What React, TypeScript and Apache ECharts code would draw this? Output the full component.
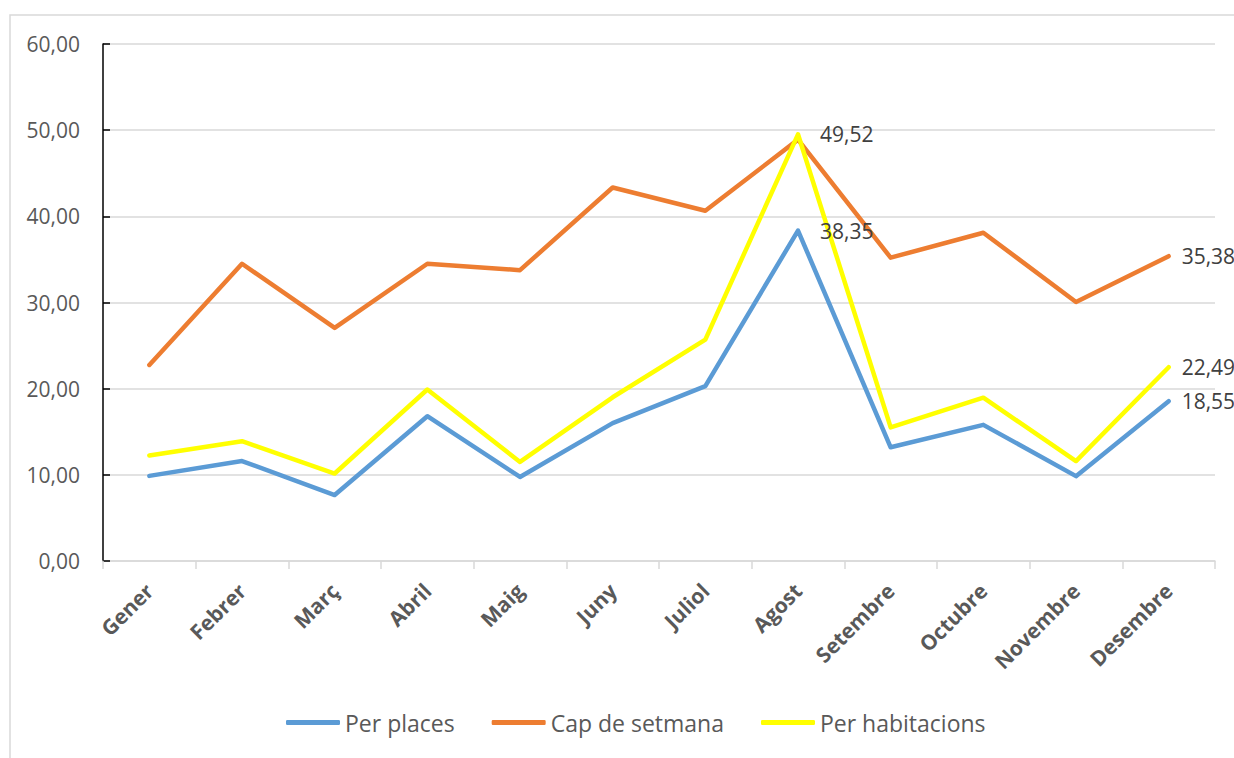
import React, { useEffect, useRef } from "react";
import * as echarts from "echarts";

const months = ["Gener", "Febrer", "Març", "Abril", "Maig", "Juny", "Juliol", "Agost", "Setembre", "Octubre", "Novembre", "Desembre"];
const perPlaces = [9.88, 11.6, 7.65, 16.8, 9.75, 16.0, 20.3, 38.35, 13.2, 15.8, 9.85, 18.55];
const capDeSetmana = [22.75, 34.5, 27.05, 34.5, 33.75, 43.35, 40.65, 48.9, 35.2, 38.1, 30.05, 35.38];
const perHabitacions = [12.25, 13.9, 10.15, 19.9, 11.5, 19.0, 25.7, 49.52, 15.5, 18.95, 11.6, 22.49];
const yTicks = { min: 0, max: 60, interval: 10 };

const fmt = (v: number) => v.toFixed(2).replace(".", ",");
const FONT = "'Open Sans', 'Noto Sans', sans-serif";

function withLabels(values: number[], labelled: { idx: number; dist: number }[]) {
  return values.map((v, i) => {
    const l = labelled.find((x) => x.idx === i);
    if (!l) return v;
    return {
      value: v,
      label: {
        show: true,
        position: "right",
        distance: l.dist,
        formatter: (p: any) => fmt(p.value),
        color: "#404040",
        fontSize: 21,
        fontFamily: FONT,
      },
    };
  });
}

export default function App() {
  const ref = useRef<HTMLDivElement>(null);
  useEffect(() => {
    if (!ref.current) return;
    const chart = echarts.init(ref.current, null, { renderer: "svg" });
    const lineSeries = (name: string, color: string, data: any[]) => ({
      name,
      type: "line",
      data,
      symbol: "circle",
      symbolSize: 0,
      showSymbol: true,
      lineStyle: { color, width: 4.5, cap: "round", join: "round" },
      itemStyle: { color },
    });
    chart.setOption({
      animation: false,
      backgroundColor: "#ffffff",
      graphic: [
        {
          type: "rect",
          shape: { x: 10, y: 15, width: 1400, height: 900 },
          style: { fill: "none", stroke: "#d9d9d9", lineWidth: 1.5 },
          silent: true,
          z: -1,
        },
      ],
      grid: { left: 103, right: 19, top: 44, bottom: 197, containLabel: false },
      legend: {
        bottom: 19,
        left: 281,
        itemWidth: 54,
        itemHeight: 5,
        itemGap: 37,
        icon: "roundRect",
        textStyle: { color: "#595959", fontSize: 23, fontFamily: FONT },
        data: ["Per places", "Cap de setmana", "Per habitacions"],
      },
      xAxis: {
        type: "category",
        data: months,
        boundaryGap: true,
        axisLine: { lineStyle: { color: "#d9d9d9", width: 1.5 } },
        axisTick: { show: true, length: 8, lineStyle: { color: "#d9d9d9", width: 1.5 } },
        axisLabel: {
          rotate: 45,
          margin: 26,
          color: "#595959",
          fontSize: 21,
          fontWeight: "bold",
          fontFamily: FONT,
          interval: 0,
        },
        splitLine: { show: false },
      },
      yAxis: {
        type: "value",
        min: yTicks.min,
        max: yTicks.max,
        interval: yTicks.interval,
        axisLine: { show: true, lineStyle: { color: "#000000", width: 1.5 } },
        axisTick: { show: true, inside: true, length: 7, lineStyle: { color: "#000000", width: 1.5 } },
        axisLabel: {
          color: "#595959",
          fontSize: 21,
          fontFamily: FONT,
          margin: 23,
          formatter: (v: number) => fmt(v),
        },
        splitLine: { lineStyle: { color: "#d9d9d9", width: 1.5 } },
      },
      series: [
        lineSeries("Per places", "#5b9bd5", withLabels(perPlaces, [{ idx: 7, dist: 22 }, { idx: 11, dist: 13 }])),
        lineSeries("Cap de setmana", "#ed7d31", withLabels(capDeSetmana, [{ idx: 11, dist: 13 }])),
        lineSeries("Per habitacions", "#ffff00", withLabels(perHabitacions, [{ idx: 7, dist: 22 }, { idx: 11, dist: 13 }])),
      ],
    });
    return () => chart.dispose();
  }, []);
  return (
    <div
      ref={ref}
      style={{ position: "absolute", left: 0, top: 0, width: 1234, height: 758 }}
    />
  );
}
